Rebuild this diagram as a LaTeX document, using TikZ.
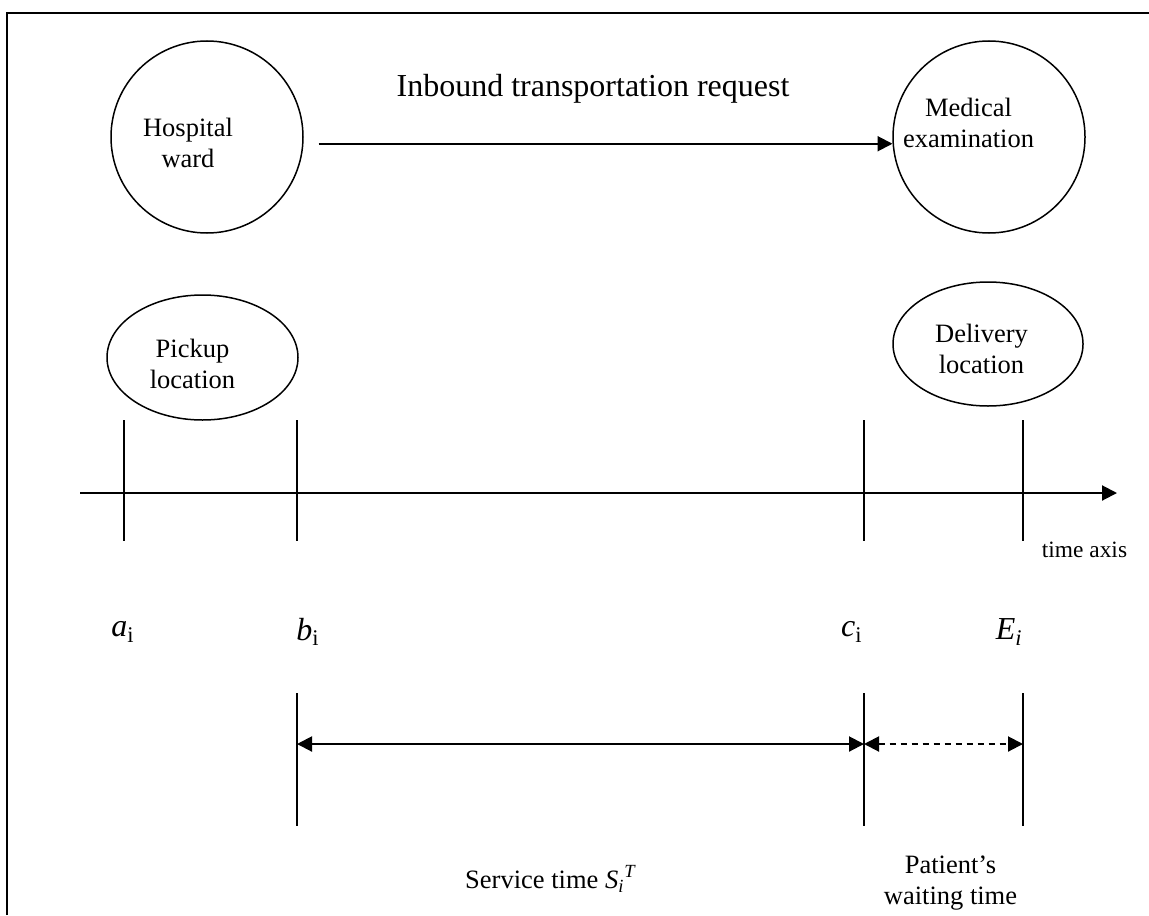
\documentclass[tikz,border=0pt]{standalone}
\usepackage{fontspec}
\setmainfont{Liberation Serif}
\usetikzlibrary{arrows.meta,shapes.geometric}

\tikzset{
  place/.style={circle,draw,line width=0.75pt,minimum size=96pt,inner sep=0pt},
  spot/.style={ellipse,draw,line width=0.75pt,inner sep=0pt},
  lbl/.style={align=center,inner sep=0pt,font=\fontsize{13.25}{15.5}\selectfont},
  var/.style={inner sep=0pt,font=\fontsize{16}{19}\selectfont\itshape},
  tickline/.style={line width=0.7pt},
  arr/.style={line width=1pt,-{Triangle[length=7.5pt,width=7.5pt]}},
  dbl/.style={line width=1pt,{Triangle[length=7.5pt,width=7.5pt]}-{Triangle[length=7.5pt,width=7.5pt]}}
}

\begin{document}
\begin{tikzpicture}[x=0.5pt,y=-0.5pt]
  \useasboundingbox (0,0) rectangle (1149,915);
  % frame
  \draw[line width=0.75pt] (7,915) -- (7,13) -- (1149,13);

  % request
  \node[place] (ward) at (207,137) {};
  \node[place] (exam) at (989,137) {};
  \node[lbl] (wardtxt) at (188,143) {Hospital\\ward};
  \node[lbl] (examtxt) at (968.5,122.5) {Medical\\examination};
  \draw[arr] ([xshift=7.5pt]ward.-4.2) -- (exam.184.2);
  \node[inner sep=0pt,anchor=base,font=\fontsize{16}{19}\selectfont] (req) at (593,97) {Inbound transportation request};

  % locations
  \node[spot,minimum width=95.5pt,minimum height=62.5pt] (pick) at (202.5,357.5) {};
  \node[spot,minimum width=95pt,minimum height=62pt] (deliv) at (988,344) {};
  \node[lbl] (picktxt) at (192.5,363.5) {Pickup\\location};
  \node[lbl] (delivtxt) at (981.5,349) {Delivery\\location};

  % time axis
  \coordinate (t0) at (80,493);
  \coordinate (t1) at (1117,493);
  \draw[arr] (t0) -- (t1);
  \foreach \x in {124,297,864,1023} \draw[tickline] (\x,420) -- (\x,541);
  \node[inner sep=0pt,font=\fontsize{11.7}{14}\selectfont] (axis) at (1084.5,550) {time axis};

  \node[var,anchor=west] (ai) at (111,632) {a\textsubscript{\upshape i}};
  \node[var,anchor=west] (bi) at (296,632) {b\textsubscript{\upshape i}};
  \node[var,anchor=east] (ci) at (863,632) {c\textsubscript{\upshape i}};
  \node[var,anchor=east] (ei) at (1023,632) {E\textsubscript{i}};

  % service and waiting
  \foreach \x in {297,864,1023} \draw[tickline] (\x,693) -- (\x,826);
  \coordinate (sb) at (297,744);
  \coordinate (sc) at (864,744);
  \coordinate (se) at (1023,744);
  \draw[dbl] (sb) -- (sc);
  \draw[dbl,dash pattern=on 3pt off 2.5pt] (sc) -- (se);
  \node[lbl,anchor=base] (serv) at (551,888) {Service time \textit{S}\textsubscript{\textit{i}}\textsuperscript{\textit{T}}};
  \node[lbl] (wait) at (950.5,883) {Patient’s\\waiting time};
\end{tikzpicture}
\end{document}
